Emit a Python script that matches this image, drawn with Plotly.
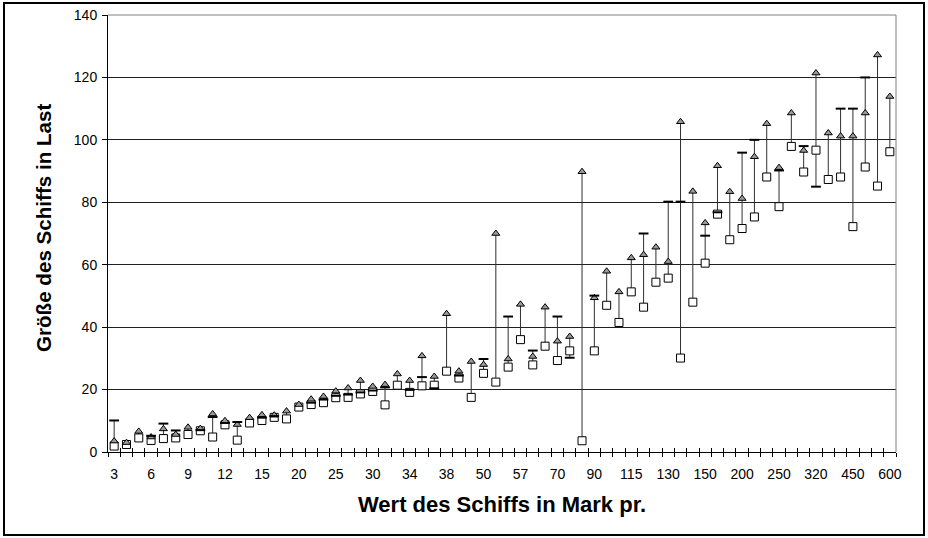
import plotly.graph_objects as go

# Categories: value of the ship in Mark (only every third is labelled)
categories = [3, 4, 5, 6, 7, 8, 9, 10, 11, 12, 13, 14, 15, 16, 18, 20, 22, 24, 25, 26,
              28, 30, 32, 33, 34, 36, 37, 38, 40, 45, 50, 54, 56, 57, 60, 65, 70, 75,
              80, 90, 100, 110, 115, 120, 125, 130, 140, 145, 150, 160, 180, 200, 220,
              240, 250, 280, 300, 320, 350, 400, 450, 500, 550, 600]

square_vals = [1.9, 2.4, 4.5, 3.7, 4.3, 4.5, 5.6, 6.8, 4.8, 8.7,
               3.8, 9.3, 10.1, 11.1, 10.6, 14.4, 15.2, 15.8, 17.4, 17.5,
               18.6, 19.4, 15.1, 21.4, 19.1, 21.2, 21.4, 25.9, 23.7, 17.5,
               25.2, 22.4, 27.2, 36.0, 27.9, 33.9, 29.3, 32.4, 3.6, 32.4,
               47.0, 41.5, 51.3, 46.4, 54.4, 55.7, 30.1, 48.0, 60.5, 76.2,
               68.0, 71.6, 75.3, 88.1, 78.6, 97.9, 89.7, 96.7, 87.3, 88.1,
               72.2, 91.3, 85.2, 96.2]

triangle_vals = [3.5, 3.0, 6.6, 4.8, 7.4, 5.6, 7.9, 7.5, 12.2, 10.0,
                 8.8, 11.0, 11.9, 11.8, 13.1, 15.2, 16.9, 17.8, 19.5, 20.5,
                 22.9, 21.0, 21.6, 25.0, 22.9, 30.8, 24.2, 44.3, 25.9, 29.0,
                 28.0, 70.0, 29.8, 47.3, 30.6, 46.4, 35.5, 37.0, 89.8, 49.4,
                 57.9, 51.3, 62.2, 63.2, 65.6, 61.0, 105.8, 83.5, 73.4, 91.7,
                 83.4, 81.2, 94.6, 105.2, 91.1, 108.6, 96.6, 121.4, 102.2, 101.2,
                 101.2, 108.6, 127.2, 113.9]

dash_vals = [10.1, None, None, 5.2, 9.1, 6.9, None, 7.0, 11.2, 9.3,
             9.6, None, 11.0, 11.5, None, None, 15.8, 16.8, 18.0, 18.4,
             19.1, 19.7, 20.7, None, 19.9, 24.0, 20.4, None, 24.5, None,
             29.8, None, 43.4, None, 32.5, None, 43.4, 30.2, None, 50.1,
             None, None, None, 70.0, None, 80.2, 80.2, None, 69.3, 76.8,
             None, 95.9, 100.0, None, 90.2, None, 98.0, 85.0, None, 110.0,
             110.0, 120.0, None, None]

y_ticks = [0, 20, 40, 60, 80, 100, 120, 140]

cats = [str(c) for c in categories]
tick_text = [c if i % 3 == 0 else "" for i, c in enumerate(cats)]

# high-low lines
hl_x, hl_y = [], []
for c, a, b, d in zip(cats, square_vals, triangle_vals, dash_vals):
    vals = [v for v in (a, b, d) if v is not None]
    hl_x += [c, c, None]
    hl_y += [min(vals), max(vals), None]

FONT = "Liberation Sans, Arial, sans-serif"

fig = go.Figure()
fig.add_trace(go.Scatter(x=hl_x, y=hl_y, mode="lines",
                         line=dict(color="#303030", width=1),
                         hoverinfo="skip", showlegend=False))
fig.add_trace(go.Scatter(x=cats, y=square_vals, mode="markers",
                         marker=dict(symbol="square", size=8, color="white",
                                     line=dict(color="black", width=1)),
                         showlegend=False))
fig.add_trace(go.Scatter(x=cats, y=triangle_vals, mode="markers",
                         marker=dict(symbol="triangle-up", size=7, color="#9a9a9a",
                                     line=dict(color="black", width=1)),
                         showlegend=False))
fig.add_trace(go.Scatter(x=cats, y=dash_vals, mode="markers",
                         marker=dict(symbol="line-ew", size=7, color="black",
                                     line=dict(color="black", width=2)),
                         showlegend=False))
# dummy trace for the overlay axis that draws the inner half of the cross ticks
fig.add_trace(go.Scatter(x=cats, y=[None] * len(cats), xaxis="x2", mode="markers",
                         hoverinfo="skip", showlegend=False))

L, R, T, B = 108, 32, 15, 86
W, H = 928, 538
pw, ph = W - L - R, H - T - B

common_x = dict(type="category", categoryorder="array", categoryarray=cats,
                range=[-0.5, len(cats) - 0.5], tickmode="array", tickvals=cats,
                tickson="boundaries", showgrid=False, zeroline=False,
                automargin=False, tickangle=0)

fig.update_layout(
    width=W, height=H,
    margin=dict(l=L, r=R, t=T, b=B, autoexpand=False),
    paper_bgcolor="white", plot_bgcolor="white",
    font=dict(family=FONT, size=14, color="black"),
    xaxis=dict(**common_x, ticktext=tick_text, ticks="outside", ticklen=4,
               tickcolor="black", tickwidth=1, showline=True, linecolor="black",
               linewidth=1, ticklabelstandoff=9,
               tickfont=dict(family=FONT, size=14, color="black")),
    xaxis2=dict(**common_x, overlaying="x", anchor="y", side="bottom",
                ticks="inside", ticklen=4, tickcolor="black", tickwidth=1,
                showticklabels=False, showline=False),
    yaxis=dict(range=[0, 140], tickmode="array", tickvals=y_ticks,
               showgrid=True, gridcolor="#202020", gridwidth=1, zeroline=False,
               showline=True, linecolor="black", linewidth=1, automargin=False,
               ticks="outside", ticklen=5, tickcolor="black", ticklabelstandoff=2,
               tickfont=dict(family=FONT, size=14, color="black")),
    shapes=[
        dict(type="line", xref="paper", yref="paper", x0=0, x1=1, y0=1, y1=1,
             line=dict(color="#808080", width=1), layer="above"),
        dict(type="line", xref="paper", yref="paper", x0=1, x1=1, y0=0, y1=1,
             line=dict(color="#808080", width=1), layer="above"),
        dict(type="rect", xref="paper", yref="paper",
             x0=(4 - L) / pw, x1=(924 - L) / pw,
             y0=(H - B - 535) / ph, y1=(H - B - 3) / ph,
             line=dict(color="black", width=2), layer="above"),
    ],
    annotations=[
        dict(text="<b>Wert des Schiffs in Mark pr.</b>", xref="paper", yref="paper",
             x=(502 - L) / pw, y=(H - B - 504) / ph, xanchor="center", yanchor="middle",
             showarrow=False, font=dict(family=FONT, size=22, color="black")),
        dict(text="<b>Größe des Schiffs in Last</b>", xref="paper", yref="paper",
             x=(43 - L) / pw, y=(H - B - 228) / ph, xanchor="center", yanchor="middle",
             textangle=-90, showarrow=False, font=dict(family=FONT, size=20.6, color="black")),
    ],
)

fig.write_html("out.html", config={"displayModeBar": False},
               post_script="document.body.style.margin='0';document.body.style.overflow='hidden';")
